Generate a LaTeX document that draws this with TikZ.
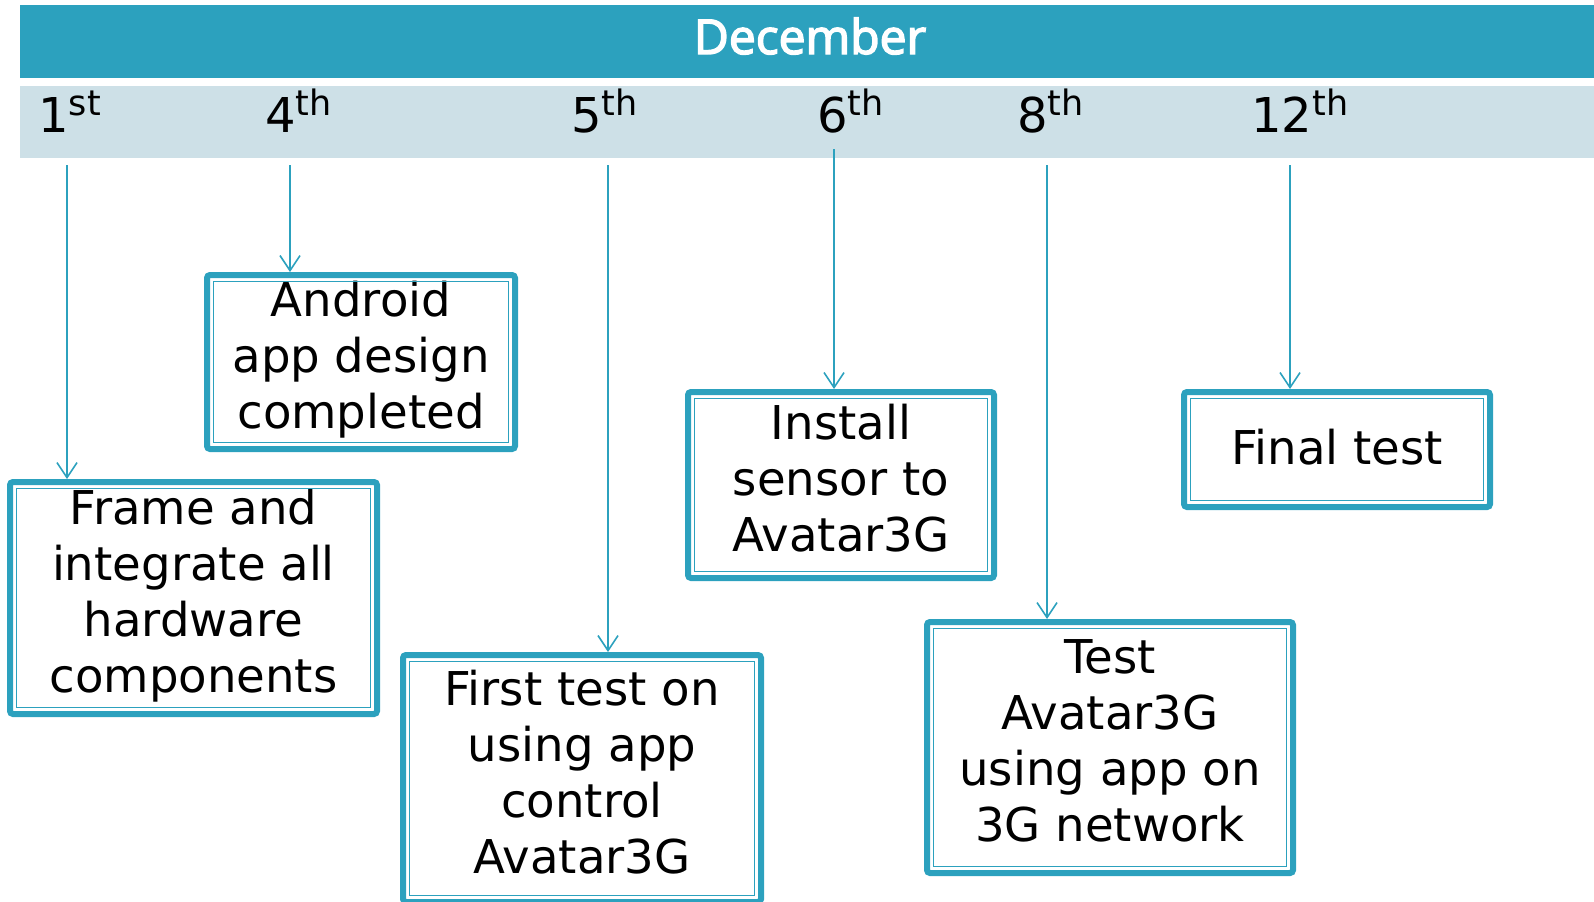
\documentclass[tikz,border=0pt]{standalone}
\usepackage{fontspec}
\setmainfont{DejaVu Sans}
\newfontfamily\decfont[FakeBold=3]{Open Sans}
\usetikzlibrary{arrows.meta,calc}
\definecolor{teal1}{HTML}{2CA1BE}
\definecolor{lightbar}{HTML}{CDE0E7}
\newcommand\dsup[1]{\raisebox{8.5pt}{\fontsize{17.5}{18}\selectfont #1}}
\begin{document}
\begin{tikzpicture}[x=0.5pt,y=-0.5pt,
  tbox/.style={draw=teal1, line width=3pt, rounded corners=1.5pt, align=center, inner sep=0pt, text depth=7pt, font=\fontsize{23.3}{28}\selectfont},
  inbox/.style={draw=teal1, line width=0.75pt},
  conn/.style={draw=teal1, line width=0.8pt, -{Straight Barb[length=7.5pt,width=10pt,line width=0.8pt]}},
  datelbl/.style={anchor=base west, inner sep=0pt, font=\fontsize{24}{24}\selectfont}]
\useasboundingbox (0,0) rectangle (1594,901);
% header bars
\fill[teal1] (20,5) rectangle (1594,78);
\fill[lightbar] (20,86) rectangle (1594,158);
\node[anchor=base, text=white, font=\decfont\fontsize{24}{24}\selectfont, inner sep=0pt] (month) at (810,54) {December};
% dates
\node[datelbl] (d1) at (38,132) {1\dsup{st}};
\node[datelbl] (d4) at (265,132) {4\dsup{th}};
\node[datelbl] (d5) at (571,132) {5\dsup{th}};
\node[datelbl] (d6) at (817,132) {6\dsup{th}};
\node[datelbl] (d8) at (1017,132) {8\dsup{th}};
\node[datelbl] (d12) at (1251,132) {12\dsup{th}};
% boxes
\node[tbox, minimum width=154pt, minimum height=87pt] (android) at (361,362) {Android\\app design\\completed};
\node[tbox, minimum width=183.5pt, minimum height=116pt] (frame) at (193.5,598) {Frame and\\integrate all\\hardware\\components};
\node[tbox, minimum width=179pt, minimum height=123.5pt] (first) at (582,778.5) {First test on\\using app\\control\\Avatar3G};
\node[tbox, minimum width=153pt, minimum height=93pt] (install) at (841,485) {Install\\sensor to\\Avatar3G};
\node[tbox, minimum width=183pt, minimum height=125.5pt] (test) at (1110,747.5) {Test\\Avatar3G\\using app on\\3G network};
\node[tbox, text depth=3pt, minimum width=153pt, minimum height=57.5pt] (final) at (1337,449.5) {Final test};
\foreach \n in {android,frame,first,install,test,final}
  \draw[inbox] ($(\n.north west)+(9.5,9.5)$) rectangle ($(\n.south east)+(-9.5,-9.5)$);
% connectors
\coordinate (s1) at (67,165);
\coordinate (s4) at (290,165);
\coordinate (s5) at (608,165);
\coordinate (s6) at (834,149);
\coordinate (s8) at (1047,165);
\coordinate (s12) at (1290,165);
\draw[conn] (s1) -- (s1 |- frame.north);
\draw[conn] (s4) -- (s4 |- android.north);
\draw[conn] (s5) -- (s5 |- first.north);
\draw[conn] (s6) -- (s6 |- install.north);
\draw[conn] (s8) -- (s8 |- test.north);
\draw[conn] (s12) -- (s12 |- final.north);
\end{tikzpicture}
\end{document}
